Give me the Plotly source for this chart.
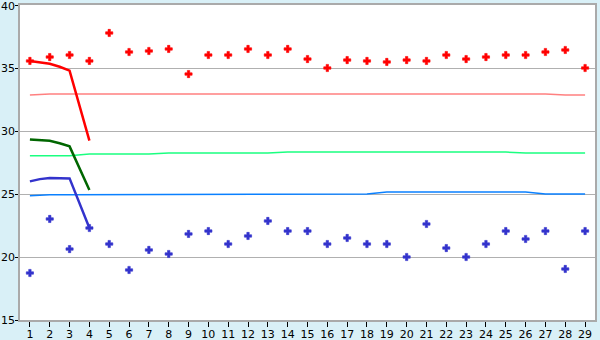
import plotly.graph_objects as go

days = list(range(1, 30))
y_ticks = [15, 20, 25, 30, 35, 40]

red_pts = [35.56, 35.87, 36.03, 35.56, 37.78, 36.27, 36.35, 36.51, 34.52, 36.03,
           36.03, 36.51, 36.03, 36.51, 35.71, 35.0, 35.63, 35.56, 35.48, 35.63,
           35.56, 36.03, 35.71, 35.87, 36.03, 36.03, 36.27, 36.43, 35.0]
blue_pts = [18.73, 23.02, 20.63, 22.3, 21.03, 18.97, 20.56, 20.24, 21.83, 22.06,
            21.03, 21.67, 22.86, 22.06, 22.06, 21.03, 21.51, 21.03, 21.03, 20.0,
            22.62, 20.71, 20.0, 21.03, 22.06, 21.43, 22.06, 19.05, 22.06]

pink_line = [32.86] + [32.94] * 26 + [32.86, 32.86]
green_line = [28.04] * 3 + [28.17] * 4 + [28.25] * 6 + [28.33] * 12 + [28.25] * 4
lblue_line = [24.87] + [24.95] * 6 + [25.0] * 11 + [25.16] * 8 + [25.0] * 3

short_x = [1, 1.5, 2, 2.5, 3, 4]
red_curve = [35.56, 35.47, 35.34, 35.1, 34.79, 29.23]
dgreen_curve = [29.33, 29.3, 29.23, 29.03, 28.78, 25.32]
blue_curve = [26.0, 26.18, 26.27, 26.27, 26.24, 22.3]

fig = go.Figure()

for vals, col in [(pink_line, "#ff8080"), (green_line, "#1aff80"), (lblue_line, "#0a80ff")]:
    fig.add_trace(go.Scatter(x=days, y=vals, mode="lines",
                             line=dict(color=col, width=1.5)))

for vals, col in [(red_curve, "#ff0000"), (dgreen_curve, "#006600"), (blue_curve, "#3333cc")]:
    fig.add_trace(go.Scatter(x=short_x, y=vals, mode="lines",
                             line=dict(color=col, width=2.5)))

fig.add_trace(go.Scatter(x=days, y=red_pts, mode="markers",
                         marker=dict(symbol="cross", size=6, color="#ff0000",
                                     line=dict(color="#ff0000", width=0.6))))
fig.add_trace(go.Scatter(x=days, y=blue_pts, mode="markers",
                         marker=dict(symbol="cross", size=6, color="#3333cc",
                                     line=dict(color="#3333cc", width=0.6))))

fig.update_layout(
    width=600, height=340,
    margin=dict(l=20, r=5, t=5, b=20),
    paper_bgcolor="#d9f0f7",
    plot_bgcolor="#ffffff",
    showlegend=False,
    font=dict(family="DejaVu Sans", size=11, color="#000000"),
)
fig.update_xaxes(range=[0.5, 29.5], tickmode="array", tickvals=days,
                 ticktext=[str(d) for d in days], automargin=False,
                 showgrid=False, zeroline=False, ticklabelstandoff=-2,
                 showline=True, linecolor="#aaaaaa", linewidth=2, mirror=True,
                 ticks="outside", ticklen=5, tickcolor="#000000", tickwidth=1)
fig.update_yaxes(range=[15, 40], tickmode="array", tickvals=y_ticks,
                 automargin=False, showticklabels=False,
                 showgrid=True, gridcolor="#b0b0b0", gridwidth=1, zeroline=False,
                 showline=True, linecolor="#aaaaaa", linewidth=2, mirror=True,
                 ticks="outside", ticklen=3, tickcolor="#000000", tickwidth=1)

# y tick labels placed just left of the tick marks
for v in y_ticks:
    fig.add_annotation(x=0, xref="paper", y=v, yref="y", text=str(v),
                       showarrow=False, xanchor="right", yanchor="middle",
                       xshift=-3, yshift=(-1 if v == 40 else 0),
                       font=dict(size=11, color="#000000"))

fig.write_html("out.html")
